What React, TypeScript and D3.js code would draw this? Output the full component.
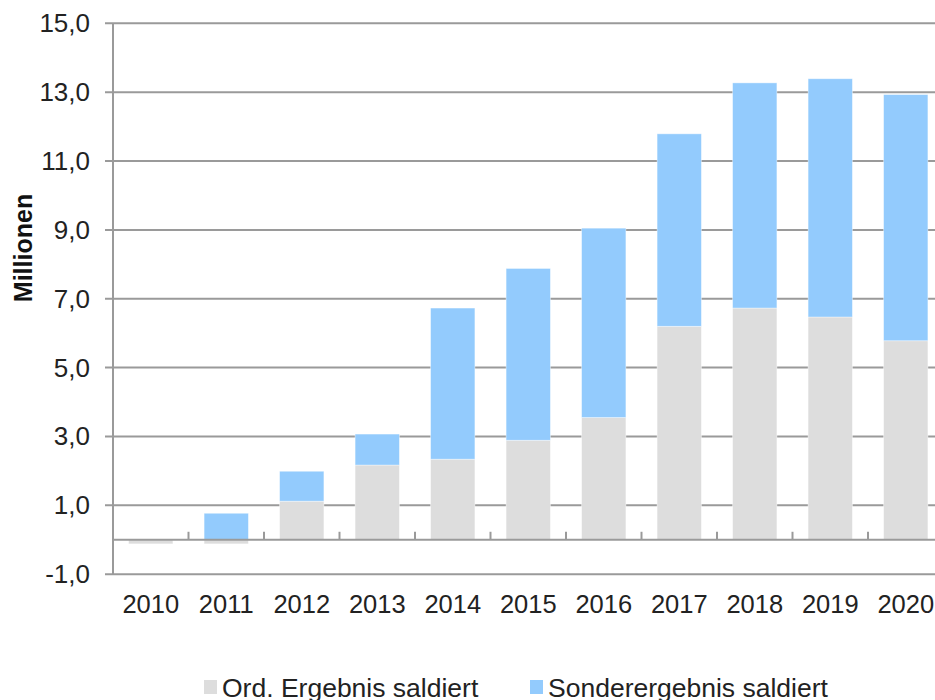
import React from "react";
import * as d3 from "d3";

const years = ["2010", "2011", "2012", "2013", "2014", "2015", "2016", "2017", "2018", "2019", "2020"];
const ordErgebnis = [-0.12, -0.12, 1.12, 2.17, 2.34, 2.89, 3.55, 6.2, 6.73, 6.47, 5.78];
const sonderErgebnis = [0, 0.77, 0.87, 0.9, 4.39, 4.99, 5.5, 5.59, 6.54, 6.92, 7.15];
const yTicks = [-1, 1, 3, 5, 7, 9, 11, 13, 15];
const seriesNames = ["Ord. Ergebnis saldiert", "Sonderergebnis saldiert"];
const seriesColors = ["#dddddd", "#93cbfd"];
const legendX = [204, 530];

const W = 935;
const H = 700;
const FONT = "'Liberation Sans', Arial, sans-serif";

export default function App() {
  const x = d3
    .scaleBand<string>()
    .domain(years)
    .range([113, 943.5])
    .paddingInner(0.413)
    .paddingOuter(0.2065);
  const y = d3.scaleLinear().domain([-1, 15]).range([574.2, 23.3]);
  const fmt = (v: number) => v.toFixed(1).replace(".", ",");
  const step = x.step();
  const x0 = x.range()[0];

  const rows = years.map((yr, i) => ({ yr, ord: ordErgebnis[i], sonder: sonderErgebnis[i] }));
  const stack = d3
    .stack<any>()
    .keys(["ord", "sonder"])
    .offset(d3.stackOffsetDiverging)(rows);

  return (
    <div style={{ position: "absolute", left: 0, top: 0 }}>
      <svg width={W} height={H} style={{ display: "block", background: "#fff" }}>
        {/* horizontal gridlines with outward ticks */}
        {yTicks.map((t) => (
          <line
            key={"g" + t}
            x1={105}
            x2={W}
            y1={y(t)}
            y2={y(t)}
            stroke="#9a9a9a"
            strokeWidth={2}
          />
        ))}
        {/* bars */}
        {stack.map((s, si) =>
          s.map((d, i) => {
            const top = y(Math.max(d[0], d[1]));
            const bot = y(Math.min(d[0], d[1]));
            if (Math.abs(bot - top) < 0.01) return null;
            return (
              <rect
                key={si + "-" + i}
                x={x(years[i])}
                y={top}
                width={x.bandwidth()}
                height={bot - top}
                fill={seriesColors[si]}
                stroke="#ffffff"
                strokeOpacity={0.5}
                strokeWidth={0.8}
              />
            );
          })
        )}
        {/* zero line with category ticks */}
        <line x1={113} x2={W} y1={y(0)} y2={y(0)} stroke="#9a9a9a" strokeWidth={2} />
        {years.slice(1).map((_, i) => {
          const xt = x0 + step * (i + 1);
          return (
            <line key={"xt" + i} x1={xt} x2={xt} y1={y(0)} y2={y(0) - 8} stroke="#9a9a9a" strokeWidth={2} />
          );
        })}
        {/* y axis line */}
        <line x1={113} x2={113} y1={y(15)} y2={y(-1)} stroke="#9a9a9a" strokeWidth={2} />
        {/* y tick labels */}
        {yTicks.map((t) => (
          <text
            key={"yl" + t}
            x={90}
            y={y(t) + 9}
            textAnchor="end"
            fontFamily={FONT}
            fontSize={26}
            fill="#222"
          >
            {fmt(t)}
          </text>
        ))}
        {/* x labels */}
        {years.map((yr) => (
          <text
            key={"xl" + yr}
            x={(x(yr) as number) + x.bandwidth() / 2}
            y={613.3}
            textAnchor="middle"
            fontFamily={FONT}
            fontSize={25.5}
            fill="#222"
          >
            {yr}
          </text>
        ))}
        {/* y axis title */}
        <text
          transform="translate(32,248) rotate(-90)"
          textAnchor="middle"
          fontFamily={FONT}
          fontSize={25}
          fontWeight="bold"
          fill="#111"
        >
          Millionen
        </text>
        {/* legend */}
        {seriesNames.map((n, i) => (
          <g key={"lg" + i}>
            <rect x={legendX[i]} y={680} width={13} height={14} fill={seriesColors[i]} />
            <text x={legendX[i] + 18} y={697} fontFamily={FONT} fontSize={26.5} fill="#222">
              {n}
            </text>
          </g>
        ))}
      </svg>
    </div>
  );
}
